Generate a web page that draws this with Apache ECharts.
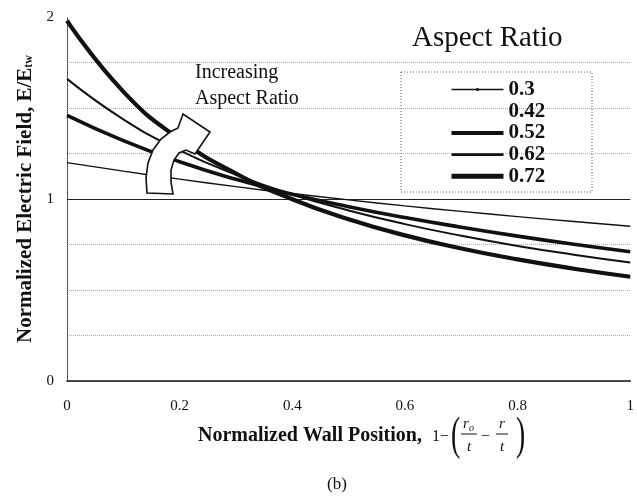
<!DOCTYPE html>
<html>
<head>
<meta charset="utf-8">
<script src="https://cdn.jsdelivr.net/npm/echarts@6/dist/echarts.min.js"></script>
<style>
html,body{margin:0;padding:0;background:#fff;}
#chart{width:637px;height:503px;}
</style>
</head>
<body>
<div id="chart"></div>
<script>
// Wall position (x) samples
const xPositions = [0, 0.1, 0.2, 0.3, 0.4, 0.5, 0.6, 0.7, 0.8, 0.9, 1.0];
// Normalized electric field
const field030 = [1.20, 1.153, 1.109, 1.068, 1.030, 0.995, 0.962, 0.932, 0.903, 0.876, 0.850];
const field042 = []; // no curve visible in the reference
const field052 = [1.46, 1.321, 1.205, 1.108, 1.026, 0.958, 0.898, 0.845, 0.796, 0.751, 0.710];
const field062 = [1.66, 1.438, 1.267, 1.133, 1.025, 0.937, 0.862, 0.798, 0.742, 0.694, 0.651];
const field072 = [1.98, 1.590, 1.328, 1.140, 0.999, 0.889, 0.800, 0.728, 0.668, 0.617, 0.573];
const seriesNames = ['0.3', '0.42', '0.52', '0.62', '0.72'];
const yTickLabels = ['0', '1', '2'];
const referenceLevel = 1;

const SERIF = 'Liberation Serif';
const pairs = arr => arr.map((v, i) => [xPositions[i], v]);

const chart = echarts.init(document.getElementById('chart'));

const seriesStyles = {
  '0.3':  {width: 1.4, legendWidth: 1.6, symbol: 'circle'},
  '0.42': {width: 0, legendWidth: 0, symbol: 'none'},
  '0.52': {width: 3.6, legendWidth: 4, symbol: 'none'},
  '0.62': {width: 2.0, legendWidth: 2.6, symbol: 'none'},
  '0.72': {width: 4.2, legendWidth: 5, symbol: 'none'}
};
const seriesData = {'0.3': field030, '0.42': field042, '0.52': field052, '0.62': field062, '0.72': field072};

const series = seriesNames.map(name => {
  const st = seriesStyles[name];
  const s = {
    name: name,
    type: 'line',
    smooth: true,
    data: pairs(seriesData[name]),
    symbol: st.symbol,
    symbolSize: 3,
    showSymbol: false,
    lineStyle: {color: name === '0.42' ? 'rgba(0,0,0,0)' : '#111', width: st.width},
    itemStyle: {color: name === '0.42' ? 'rgba(0,0,0,0)' : '#111'},
    emphasis: {disabled: true},
    z: 3
  };
  if (name === '0.3') {
    s.markLine = {
      silent: true, symbol: 'none', label: {show: false},
      lineStyle: {color: '#222', width: 1, type: 'solid'},
      data: [{yAxis: referenceLevel}], z: 2
    };
  }
  return s;
});

const arrowPoints = [[147,193],[146,178],[148,163],[153,150],[161,139],[170,132],[178,128],[183,114],[210,132],[195,154],[186,150],[179,153],[174,160],[171,170],[171,182],[173,194]];

const legendItems = seriesNames.map(n => ({
  name: n,
  itemStyle: {opacity: n === '0.3' ? 1 : 0},
  lineStyle: {width: seriesStyles[n].legendWidth, color: n === '0.42' ? 'rgba(0,0,0,0)' : '#111'}
}));

const option = {
  animation: false,
  backgroundColor: '#fff',
  grid: {left: 67, right: 5, top: 17, bottom: 122},
  legend: {
    data: legendItems,
    orient: 'vertical',
    left: 449, top: 79,
    padding: 0,
    itemWidth: 52, itemHeight: 4, itemGap: 0.7,
    textStyle: {fontFamily: SERIF, fontWeight: 'bold', fontSize: 21, color: '#111', lineHeight: 19},
    selectedMode: false
  },
  xAxis: {
    type: 'value', min: 0, max: 1, interval: 0.2,
    axisLine: {lineStyle: {color: '#111', width: 1.5}},
    axisTick: {show: false},
    splitLine: {show: false},
    axisLabel: {
      margin: 18, fontFamily: SERIF, fontSize: 15, color: '#111',
      formatter: v => String(Math.round(v * 10) / 10)
    }
  },
  yAxis: {
    type: 'value', min: 0, max: 2, interval: 0.25,
    name: '{a|Normalized Electric Field, E/E}{b|tw}',
    nameLocation: 'middle', nameGap: 31,
    nameTextStyle: {
      rich: {
        a: {fontFamily: SERIF, fontWeight: 'bold', fontSize: 21, color: '#111'},
        b: {fontFamily: SERIF, fontWeight: 'bold', fontSize: 12, color: '#111', padding: [8,0,0,0]}
      }
    },
    axisLine: {show: true, lineStyle: {color: '#333', width: 1, type: 'dotted'}},
    axisTick: {show: false},
    splitLine: {show: true, showMaxLine: false, lineStyle: {color: '#aaa', type: 'dotted', width: 1}},
    axisLabel: {
      margin: 13, fontFamily: SERIF, fontSize: 15, color: '#111',
      formatter: v => (Math.abs(v - Math.round(v)) < 1e-9 ? yTickLabels[Math.round(v)] : '')
    }
  },
  graphic: [
    {type: 'rect', shape: {x: 401, y: 72, width: 191, height: 120},
     style: {fill: 'none', stroke: '#555', lineWidth: 1, lineDash: [1, 2]}, z: 1, silent: true},
    {type: 'text', x: 412, y: 24,
     style: {text: 'Aspect Ratio', font: '29px "Liberation Serif"', fill: '#111'}, z: 5},
    {type: 'text', x: 195, y: 60,
     style: {text: 'Increasing\nAspect Ratio', font: '20px "Liberation Serif"', fill: '#111', lineHeight: 26}, z: 5},
    {type: 'polygon', z: 10, silent: true,
     shape: {points: arrowPoints},
     style: {fill: '#fff', stroke: '#111', lineWidth: 1.6}},
    {type: 'text', x: 198, y: 436,
     style: {text: 'Normalized Wall Position,', font: 'bold 20px "Liberation Serif"', fill: '#111', verticalAlign: 'middle'}, z: 5},
    {type: 'text', x: 432, y: 437,
     style: {text: '1\u2212', font: '16px "Liberation Serif"', fill: '#111', verticalAlign: 'middle'}, z: 5},
    {type: 'text', x: 451, y: 437, scaleX: 0.6,
     style: {text: '(', font: '46px "Liberation Serif"', fill: '#111', verticalAlign: 'middle'}, z: 5},
    {type: 'text', x: 463, y: 424,
     style: {text: 'r', font: 'italic 15px "Liberation Serif"', fill: '#111', verticalAlign: 'middle'}, z: 5},
    {type: 'text', x: 469, y: 428,
     style: {text: 'o', font: 'italic 10px "Liberation Serif"', fill: '#111', verticalAlign: 'middle'}, z: 5},
    {type: 'line', shape: {x1: 461, y1: 434, x2: 477, y2: 434}, style: {stroke: '#111', lineWidth: 1}, z: 5},
    {type: 'text', x: 467, y: 447,
     style: {text: 't', font: 'italic 15px "Liberation Serif"', fill: '#111', verticalAlign: 'middle'}, z: 5},
    {type: 'text', x: 481, y: 437,
     style: {text: '\u2212', font: '16px "Liberation Serif"', fill: '#111', verticalAlign: 'middle'}, z: 5},
    {type: 'text', x: 499, y: 424,
     style: {text: 'r', font: 'italic 15px "Liberation Serif"', fill: '#111', verticalAlign: 'middle'}, z: 5},
    {type: 'line', shape: {x1: 496, y1: 434, x2: 508, y2: 434}, style: {stroke: '#111', lineWidth: 1}, z: 5},
    {type: 'text', x: 500, y: 447,
     style: {text: 't', font: 'italic 15px "Liberation Serif"', fill: '#111', verticalAlign: 'middle'}, z: 5},
    {type: 'text', x: 516, y: 437, scaleX: 0.6,
     style: {text: ')', font: '46px "Liberation Serif"', fill: '#111', verticalAlign: 'middle'}, z: 5},
    {type: 'text', x: 337, y: 485,
     style: {text: '(b)', font: '17px "Liberation Serif"', fill: '#111', align: 'center', verticalAlign: 'middle'}, z: 5}
  ],
  series: series
};
chart.setOption(option);
</script>
</body>
</html>
